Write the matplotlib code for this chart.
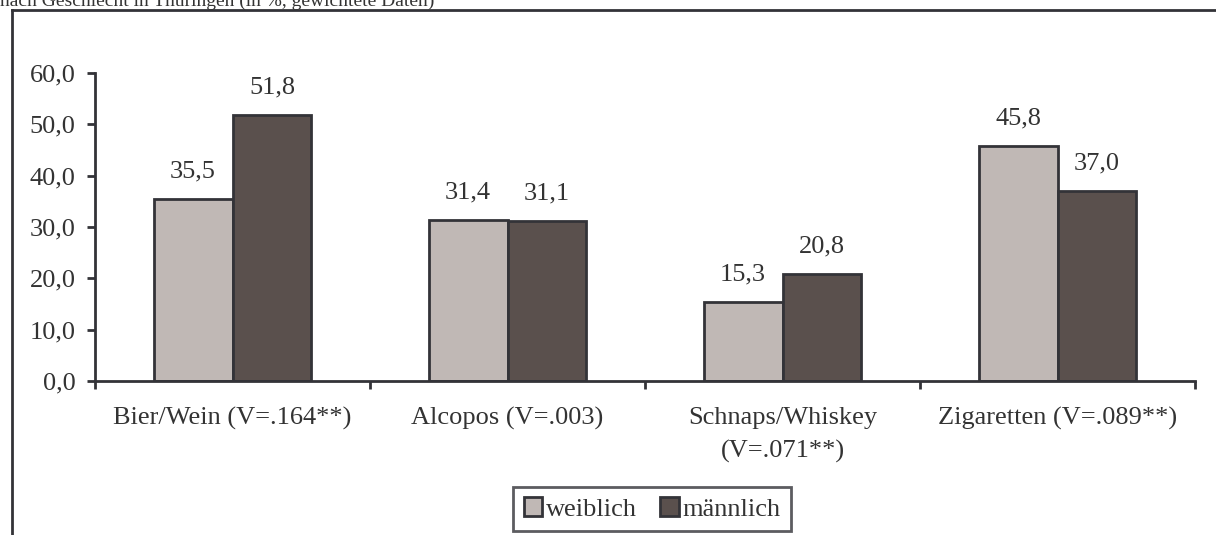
import numpy as np
import matplotlib
matplotlib.use("Agg")
import matplotlib.pyplot as plt
from matplotlib.lines import Line2D

# --[data]---------------------------------------------------------------------
categories = ["Bier/Wein (V=.164**)", "Alcopos (V=.003)",
              "Schnaps/Whiskey\n(V=.071**)", "Zigaretten (V=.089**)"]
weiblich = [35.5, 31.4, 15.3, 45.8]
maennlich = [51.8, 31.1, 20.8, 37.0]
series_names = ["weiblich", "männlich"]
y_ticks = [0, 10, 20, 30, 40, 50, 60]

# --[style]--------------------------------------------------------------------
plt.rcParams["font.family"] = ["Liberation Serif", "DejaVu Serif"]
plt.rcParams["font.size"] = 19
text_col = "#333333"
edge_col = "#333338"
col_w = "#C0B8B5"
col_m = "#5A504D"

W, H = 1216, 535
fig = plt.figure(figsize=(W / 100, H / 100), dpi=100)

# axes placed in pixel coordinates of the reference
ax = fig.add_axes([95 / W, (H - 381) / H, (1195 - 95) / W, (381 - 73) / H])

x = np.arange(len(categories))
bw = 0.287
b1 = ax.bar(x - bw / 2, weiblich, bw, color=col_w, edgecolor=edge_col,
            linewidth=2, label=series_names[0])
b2 = ax.bar(x + bw / 2, maennlich, bw, color=col_m, edgecolor=edge_col,
            linewidth=2, label=series_names[1])

for bars, vals in ((b1, weiblich), (b2, maennlich)):
    for rect, v in zip(bars, vals):
        ax.annotate(f"{v:.1f}".replace(".", ","),
                    (rect.get_x() + rect.get_width() / 2, rect.get_height()),
                    xytext=(0, 12), textcoords="offset points",
                    ha="center", va="bottom", color=text_col)

ax.set_xlim(-0.5, len(categories) - 0.5)
ax.set_ylim(0, 60)
ax.set_yticks(y_ticks)
ax.set_yticklabels([f"{t:.1f}".replace(".", ",") for t in y_ticks])
ax.set_xticks(np.arange(len(categories) + 1) - 0.5, minor=False)
ax.set_xticklabels([])
ax.set_xticks(x, minor=True)
ax.set_xticklabels(categories, minor=True, linespacing=1.6)
ax.tick_params(axis="x", which="minor", length=0, pad=19, colors=text_col)
ax.tick_params(axis="x", which="major", length=6, width=2, direction="out",
               color=edge_col)
ax.tick_params(axis="y", length=6, width=2, color=edge_col, pad=8,
               labelcolor=text_col)
for s in ("top", "right"):
    ax.spines[s].set_visible(False)
for s in ("left", "bottom"):
    ax.spines[s].set_linewidth(2)
    ax.spines[s].set_color(edge_col)

# --[legend]-------------------------------------------------------------------
leg = fig.legend(handles=[b1, b2], labels=series_names, loc="center",
                 bbox_to_anchor=(652 / W, (H - 509) / H), ncol=2,
                 frameon=True, fancybox=False, borderpad=0.4,
                 handlelength=0.7, handleheight=0.7, handletextpad=0.12,
                 columnspacing=0.9, borderaxespad=0, labelcolor=text_col)
leg.get_frame().set_edgecolor(edge_col)
leg.get_frame().set_linewidth(2)

# --[outer frame and clipped heading]------------------------------------------
fig.add_artist(Line2D([12 / W, 12 / W], [0, (H - 10) / H],
                      color=edge_col, linewidth=2))
fig.add_artist(Line2D([12 / W, 1], [(H - 10) / H, (H - 10) / H],
                      color=edge_col, linewidth=2))
fig.text(0, 1 - 6 / H, "nach Geschlecht in Thüringen (in %, gewichtete Daten)",
         ha="left", va="baseline", color=text_col, fontsize=14)

fig.savefig("out.png", dpi=100)
